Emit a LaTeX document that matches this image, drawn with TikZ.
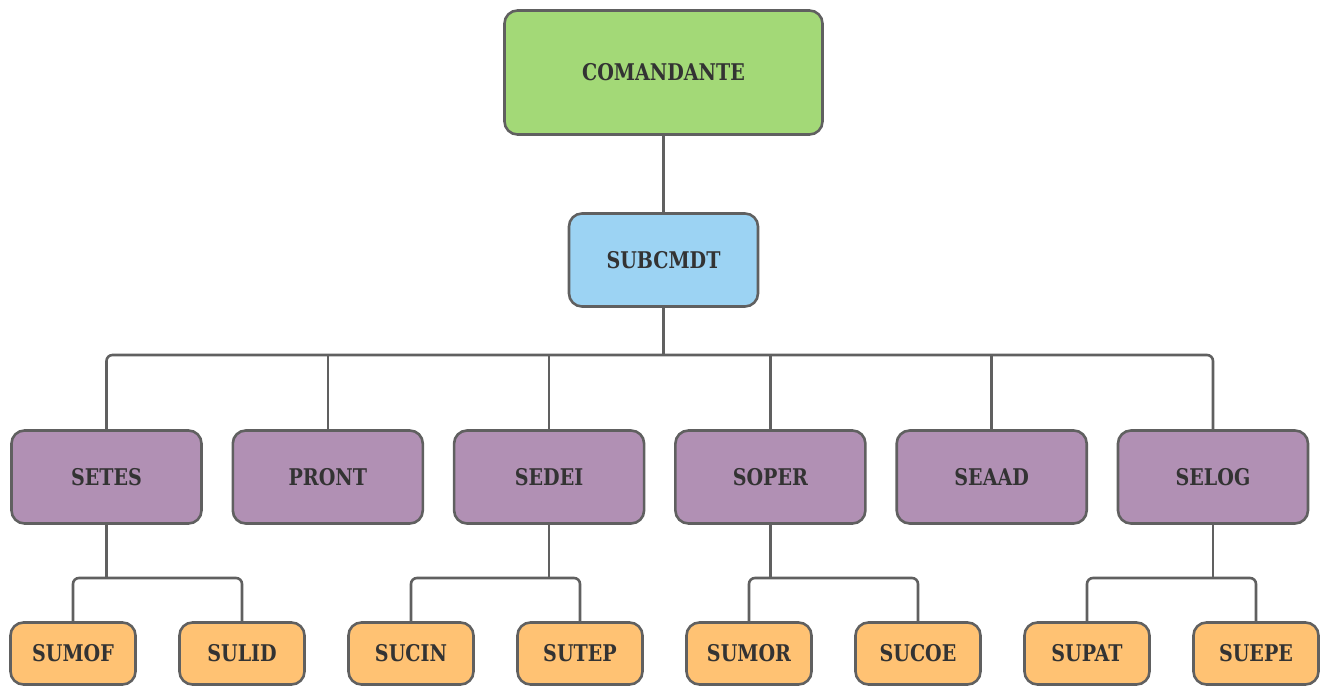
\documentclass[tikz,border=0pt]{standalone}
\usepackage{fontspec}
\setmainfont{DejaVu Serif}[FakeStretch=0.83]
\usetikzlibrary{positioning}

\definecolor{cmdgreen}{RGB}{163,217,119}
\definecolor{subblue}{RGB}{156,211,243}
\definecolor{secpurple}{RGB}{177,144,180}
\definecolor{unitorange}{RGB}{255,194,115}
\definecolor{boxline}{RGB}{96,96,96}
\definecolor{txtgray}{RGB}{51,51,51}

\begin{document}
\begin{tikzpicture}[
    x=1pt, y=-1pt,
    font=\fontsize{23}{26}\selectfont\bfseries,
    box/.style={draw=boxline, line width=2.6pt, rounded corners=13pt,
                text=txtgray, align=center, inner sep=0pt},
    cmd/.style={box, fill=cmdgreen, minimum width=318pt, minimum height=124pt},
    sub/.style={box, fill=subblue, minimum width=189pt, minimum height=93pt},
    sec/.style={box, fill=secpurple, minimum width=190pt, minimum height=93pt},
    unit/.style={box, fill=unitorange, minimum width=125pt, minimum height=62pt},
    link/.style={draw=boxline, line width=2.6pt, rounded corners=6pt},
]
    \useasboundingbox (0,0) rectangle (1326,687);

    %==================== TOP ====================
    \node[cmd] (cmd) at (663.5,72.5) {COMANDANTE};
    \node[sub, below=76.4pt of cmd] (subcmdt) {SUBCMDT};

    %==================== SECTIONS ====================
    \node[sec] (setes) at (106.5,477) {SETES};
    \node[sec, right=28.7pt of setes] (pront) {PRONT};
    \node[sec, right=28.7pt of pront] (sedei) {SEDEI};
    \node[sec, right=28.7pt of sedei] (soper) {SOPER};
    \node[sec, right=28.7pt of soper] (seaad) {SEAAD};
    \node[sec, right=28.7pt of seaad] (selog) {SELOG};

    %==================== UNITS ====================
    \node[unit] (sumof) at (73,653.5) {SUMOF};
    \node[unit, right=41.4pt of sumof] (sulid) {SULID};
    \node[unit, right=41.4pt of sulid] (sucin) {SUCIN};
    \node[unit, right=41.4pt of sucin] (sutep) {SUTEP};
    \node[unit, right=41.4pt of sutep] (sumor) {SUMOR};
    \node[unit, right=41.4pt of sumor] (sucoe) {SUCOE};
    \node[unit, right=41.4pt of sucoe] (supat) {SUPAT};
    \node[unit, right=41.4pt of supat] (suepe) {SUEPE};

    %==================== LINKS ====================
    \coordinate (topbus) at (0,355);
    \coordinate (lowbus) at (0,578);

    \draw[link] (cmd) -- (subcmdt);
    \draw[link] (subcmdt.south) -- (subcmdt.south |- topbus);
    \draw[link] (setes.north) -- (setes.north |- topbus) -| (selog.north);
    \foreach \s in {pront, sedei, soper, seaad}
        \draw[link] (\s.north) -- (\s.north |- topbus);

    % section to unit pairs
    \draw[link] (sumof.north) -- (sumof.north |- lowbus) -| (sulid.north);
    \draw[link] (setes.south) -- (setes.south |- lowbus);
    \draw[link] (sucin.north) -- (sucin.north |- lowbus) -| (sutep.north);
    \draw[link] (sedei.south) -- (sedei.south |- lowbus);
    \draw[link] (sumor.north) -- (sumor.north |- lowbus) -| (sucoe.north);
    \draw[link] (soper.south) -- (soper.south |- lowbus);
    \draw[link] (supat.north) -- (supat.north |- lowbus) -| (suepe.north);
    \draw[link] (selog.south) -- (selog.south |- lowbus);

\end{tikzpicture}
\end{document}
